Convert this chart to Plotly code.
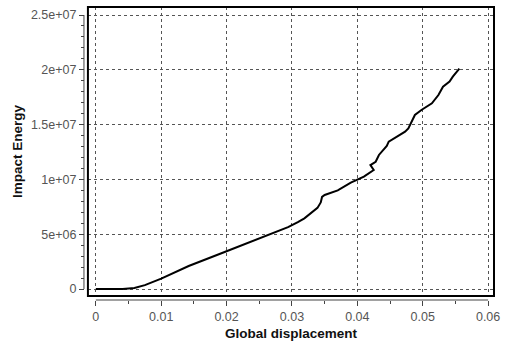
import plotly.graph_objects as go

displacement = [0.0, 0.0041, 0.0059, 0.0075, 0.0100, 0.0142, 0.0198, 0.0259, 0.0294,
                0.0309, 0.0319, 0.0339, 0.0344, 0.0346, 0.0350, 0.0370, 0.0390, 0.0410,
                0.0425, 0.0420, 0.0428, 0.0433, 0.0440, 0.0445, 0.0448, 0.0460, 0.0473,
                0.0478, 0.0483, 0.0488, 0.0498, 0.0514, 0.0524, 0.0531, 0.0541, 0.0546,
                0.0556]
energy = [0.0, 0.0, 0.09e6, 0.35e6, 0.95e6, 2.1e6, 3.4e6, 4.85e6, 5.65e6,
          6.1e6, 6.45e6, 7.4e6, 7.9e6, 8.4e6, 8.58e6, 9.0e6, 9.7e6, 10.25e6,
          10.86e6, 11.31e6, 11.61e6, 12.23e6, 12.68e6, 13.05e6, 13.44e6, 13.9e6, 14.35e6,
          14.66e6, 15.26e6, 15.88e6, 16.33e6, 16.94e6, 17.7e6, 18.46e6, 18.92e6, 19.37e6,
          20.1e6]

x_ticks = [0, 0.01, 0.02, 0.03, 0.04, 0.05, 0.06]
x_tick_text = ["0", "0.01", "0.02", "0.03", "0.04", "0.05", "0.06"]
y_ticks = [0, 5e6, 1e7, 1.5e7, 2e7, 2.5e7]
y_tick_text = ["0", "5e+06", "1e+07", "1.5e+07", "2e+07", "2.5e+07"]

W, H = 507, 347
ml, mr, mt, mb = 80, 9, 7, 44
pw = W - ml - mr
ph = H - mt - mb
xd0 = (88 - ml) / pw
yd0 = (H - mb - 296) / ph
xpos = (84 - ml) / pw
ypos = (H - mb - 300) / ph

fig = go.Figure()
fig.add_trace(go.Scatter(x=displacement, y=energy, mode="lines",
                         line=dict(color="black", width=2), showlegend=False))

tickfont = dict(family="Liberation Sans, Arial, sans-serif", size=12.5, color="#555")
titlefont = dict(family="Liberation Sans, Arial, sans-serif", size=13.5, color="#111", weight="bold")

fig.update_layout(
    width=W, height=H,
    margin=dict(l=ml, r=mr, t=mt, b=mb),
    plot_bgcolor="white", paper_bgcolor="white",
    xaxis=dict(domain=[xd0, 1], anchor="free", position=ypos,
               range=[-0.00121, 0.0609], tickvals=x_ticks, ticktext=x_tick_text,
               ticks="outside", ticklen=5, tickcolor="#444", tickwidth=1,
               minor=dict(ticks="outside", ticklen=3, dtick=0.005, tick0=0, tickcolor="#444", showgrid=False),
               showgrid=True, gridcolor="#555", griddash="dot", gridwidth=1,
               zeroline=False, showline=False, tickfont=tickfont,
               title=dict(text="Global displacement", font=titlefont, standoff=5)),
    yaxis=dict(domain=[yd0, 1], anchor="free", position=xpos,
               range=[-0.639e6, 2.573e7], tickvals=y_ticks, ticktext=y_tick_text,
               ticks="outside", ticklen=5, tickcolor="#444", tickwidth=1,
               minor=dict(ticks="outside", ticklen=3, dtick=1e6, tick0=0, tickcolor="#444", showgrid=False),
               showgrid=True, gridcolor="#555", griddash="dot", gridwidth=1,
               zeroline=False, showline=False, tickfont=tickfont,
               title=dict(text="Impact Energy", font=titlefont, standoff=4)),
    shapes=[
        dict(type="rect", xref="paper", yref="paper", x0=xd0, x1=1, y0=yd0, y1=1,
             line=dict(color="black", width=2), fillcolor="rgba(0,0,0,0)", layer="above"),
        dict(type="line", xref="x", yref="paper", x0=x_ticks[0], x1=x_ticks[-1], y0=ypos, y1=ypos,
             line=dict(color="#444", width=1)),
        dict(type="line", xref="paper", yref="y", x0=xpos, x1=xpos, y0=y_ticks[0], y1=y_ticks[-1],
             line=dict(color="#444", width=1)),
    ],
)

fig.write_html("out.html")
